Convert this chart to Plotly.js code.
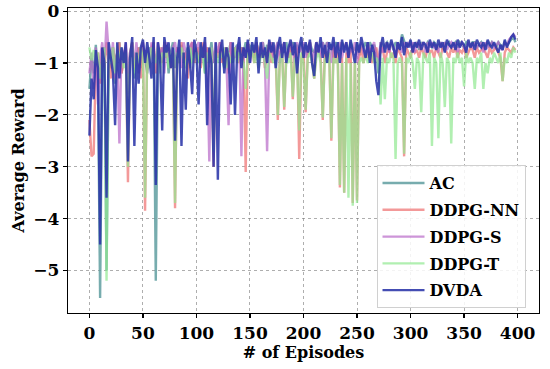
<!DOCTYPE html>
<html>
<head>
<meta charset="utf-8">
<script src="https://cdn.plot.ly/plotly-3.0.1.min.js"></script>
<style>html,body{margin:0;padding:0;background:#fff;}#chart{width:550px;height:369px;}</style>
</head>
<body>
<div id="chart"></div>
<script>
// Episodes sampled every 2 episodes (0..398)
const episodes = Array.from({length: 200}, (_, i) => 2 * i);
const seriesNames = ['AC', 'DDPG-NN', 'DDPG-S', 'DDPG-T', 'DVDA'];
const xTicks = [0, 50, 100, 150, 200, 250, 300, 350, 400];
const yTicks = [0, -1, -2, -3, -4, -5];

const acReward = [
 -1.5,-0.9,-1.2,-0.65,-1.3,-5.53,-1.0,-0.7,-5.0,-0.9,
 -1.1,-0.7,-1.4,-0.8,-0.6,-1.2,-0.9,-0.7,-1.6,-0.8,
 -0.6,-1.3,-0.9,-0.7,-1.1,-0.65,-0.9,-1.2,-0.7,-0.8,
 -0.6,-5.2,-0.8,-1.0,-0.7,-0.9,-0.65,-1.2,-0.8,-0.6,
 -1.1,-0.7,-0.9,-0.65,-1.0,-0.8,-0.7,-1.1,-0.6,-0.9,
 -0.7,-1.0,-0.65,-0.8,-1.2,-0.7,-0.9,-0.6,-1.0,-0.75,
 -0.8,-0.6,-0.9,-1.1,-0.7,-0.8,-0.6,-1.0,-0.75,-0.65,
 -0.9,-0.7,-0.8,-0.6,-1.0,-0.7,-0.65,-0.9,-0.6,-0.8,
 -0.7,-0.6,-0.85,-0.65,-0.9,-0.6,-0.75,-0.8,-0.6,-0.7,
 -0.65,-0.8,-0.6,-0.9,-0.7,-0.6,-0.75,-0.65,-0.8,-0.6,
 -0.7,-0.65,-0.9,-0.6,-0.75,-0.8,-0.6,-0.7,-0.65,-0.6,
 -0.8,-0.6,-0.7,-0.65,-0.9,-0.6,-0.7,-0.75,-0.6,-0.7,
 -0.65,-0.8,-0.6,-0.7,-0.75,-0.6,-0.85,-0.65,-0.7,-0.6,
 -0.75,-0.6,-0.7,-0.65,-0.8,-1.2,-0.6,-0.7,-0.65,-0.6,
 -0.7,-0.6,-0.75,-0.6,-0.65,-0.7,-0.45,-0.6,-0.7,-0.65,
 -0.6,-0.7,-0.65,-0.6,-0.75,-0.6,-0.65,-0.7,-0.6,-0.65,
 -0.7,-0.6,-0.65,-0.7,-0.6,-0.75,-0.6,-0.65,-0.6,-0.7,
 -0.65,-0.6,-0.7,-0.6,-0.65,-0.7,-0.6,-0.65,-0.7,-0.6,
 -0.6,-0.7,-0.65,-0.6,-0.7,-0.65,-0.6,-0.7,-0.6,-0.65,
 -0.7,-0.6,-0.65,-0.7,-0.6,-0.65,-0.6,-0.55,-0.5,-0.6
];

const ddpgNNReward = [
 -2.1,-2.8,-2.75,-1.0,-0.8,-1.4,-0.7,-1.1,-0.6,-0.9,
 -1.3,-0.7,-1.0,-0.8,-0.6,-1.2,-0.9,-0.7,-3.3,-0.8,
 -0.6,-1.1,-0.9,-0.7,-1.3,-0.6,-3.85,-0.8,-1.0,-0.7,
 -0.6,-1.2,-0.8,-0.7,-1.0,-0.6,-0.9,-0.7,-1.1,-0.8,
 -3.8,-0.7,-1.0,-0.6,-0.9,-0.8,-1.3,-0.7,-0.6,-1.0,
 -0.8,-0.7,-1.1,-0.6,-0.9,-0.7,-1.0,-0.8,-3.0,-0.7,
 -0.9,-0.6,-1.0,-0.8,-0.7,-1.2,-0.6,-0.9,-0.7,-0.8,
 -1.0,-0.7,-0.8,-3.1,-0.6,-0.9,-0.7,-1.0,-0.6,-0.8,
 -0.9,-0.7,-1.1,-0.8,-0.6,-1.0,-0.7,-0.9,-2.1,-0.8,
 -0.7,-1.9,-0.8,-0.9,-0.6,-1.7,-0.8,-0.7,-2.85,-0.9,
 -0.7,-1.95,-0.8,-0.6,-1.0,-1.3,-0.8,-0.7,-0.9,-2.1,
 -0.7,-0.9,-0.8,-2.5,-0.7,-1.0,-0.8,-3.4,-0.9,-3.5,
 -0.8,-1.0,-0.7,-3.7,-1.0,-3.65,-0.9,-0.7,-1.0,-0.8,
 -0.9,-0.7,-1.0,-0.8,-0.7,-0.9,-0.8,-0.7,-1.0,-0.8,
 -0.7,-0.9,-0.8,-1.0,-0.7,-0.8,-0.9,-2.8,-0.7,-0.8,
 -0.9,-0.7,-0.8,-0.75,-0.9,-0.7,-0.8,-0.9,-0.7,-0.8,
 -0.75,-0.9,-0.7,-0.8,-0.9,-0.7,-0.75,-0.8,-0.9,-0.7,
 -0.8,-0.7,-0.9,-0.75,-0.8,-0.7,-0.9,-0.8,-0.7,-0.75,
 -0.9,-0.7,-0.8,-0.75,-0.7,-0.8,-0.9,-0.7,-0.8,-0.75,
 -0.7,-0.8,-0.9,-1.35,-0.8,-0.7,-0.75,-0.8,-0.7,-0.75
];

const ddpgSReward = [
 -1.2,-0.8,-1.5,-0.7,-1.8,-0.9,-0.6,-1.1,-0.2,-0.8,
 -1.0,-0.6,-1.3,-0.8,-2.55,-0.7,-0.9,-0.6,-1.2,-0.8,
 -0.7,-1.0,-0.6,-1.2,-0.8,-0.6,-0.9,-0.7,-1.1,-0.6,
 -0.8,-1.0,-0.6,-0.9,-0.7,-1.2,-0.6,-0.8,-1.0,-0.7,
 -0.6,-0.9,-0.7,-1.1,-0.6,-0.8,-1.0,-0.7,-0.6,-0.9,
 -0.7,-0.6,-1.0,-0.8,-0.6,-0.9,-2.9,-0.7,-1.0,-0.6,
 -0.8,-0.6,-0.9,-0.7,-1.0,-2.2,-0.6,-0.8,-0.9,-0.7,
 -0.6,-2.8,-0.7,-0.9,-0.6,-1.0,-0.7,-0.8,-0.6,-0.9,
 -0.7,-0.6,-1.0,-2.7,-0.8,-0.6,-0.9,-0.7,-0.6,-1.0,
 -0.7,-0.6,-0.9,-0.8,-0.6,-0.7,-1.0,-0.6,-0.8,-0.7,
 -0.6,-0.9,-0.7,-0.6,-1.0,-0.8,-0.6,-0.7,-0.9,-0.6,
 -0.8,-0.6,-0.7,-1.0,-0.6,-0.8,-0.7,-0.6,-0.9,-0.7,
 -0.6,-0.9,-0.7,-0.8,-0.6,-1.0,-0.7,-0.6,-0.8,-0.9,
 -0.6,-0.8,-0.7,-0.6,-0.9,-1.0,-0.6,-0.8,-0.7,-0.6,
 -0.8,-0.6,-0.7,-0.9,-0.6,-0.7,-0.8,-0.6,-0.7,-0.6,
 -0.7,-0.6,-0.8,-0.6,-0.7,-0.65,-0.6,-0.8,-0.6,-0.7,
 -0.6,-0.7,-0.65,-0.8,-0.6,-0.7,-0.6,-0.75,-0.65,-0.6,
 -0.7,-0.6,-0.8,-0.65,-0.6,-0.7,-0.75,-0.6,-0.65,-0.7,
 -0.6,-0.7,-0.65,-0.6,-0.8,-0.6,-0.7,-0.65,-0.6,-0.7,
 -0.65,-0.6,-0.7,-0.75,-0.6,-0.65,-0.55,-0.5,-0.45,-0.5
];

const ddpgTReward = [
 -0.7,-0.95,-0.75,-1.0,-0.8,-1.3,-0.9,-0.7,-5.2,-0.8,
 -1.0,-0.7,-1.2,-0.8,-0.9,-0.7,-1.1,-0.8,-3.0,-0.9,
 -0.7,-1.2,-0.8,-1.0,-0.7,-0.9,-3.6,-0.8,-1.1,-0.7,
 -0.9,-1.0,-0.7,-1.2,-0.8,-0.9,-0.7,-1.1,-0.8,-0.9,
 -3.7,-0.8,-1.0,-0.7,-0.9,-1.1,-0.8,-0.7,-1.0,-0.9,
 -0.8,-1.0,-0.7,-0.9,-1.2,-0.8,-1.0,-0.7,-2.7,-0.8,
 -1.0,-0.8,-0.9,-0.7,-1.1,-0.8,-1.0,-0.9,-0.7,-1.0,
 -0.8,-0.9,-1.0,-1.5,-0.8,-0.9,-0.7,-1.0,-0.8,-1.1,
 -0.9,-0.8,-1.0,-1.3,-0.8,-0.9,-1.0,-0.8,-2.0,-0.9,
 -0.8,-1.85,-0.9,-1.0,-0.8,-1.65,-0.9,-1.0,-2.3,-0.8,
 -1.0,-1.9,-0.9,-0.8,-1.0,-1.3,-0.9,-0.8,-1.0,-2.05,
 -0.9,-1.0,-0.8,-2.45,-0.9,-1.0,-0.9,-3.35,-1.0,-3.5,
 -0.9,-3.6,-1.0,-3.75,-0.9,-3.7,-1.0,-0.9,-1.0,-0.8,
 -1.0,-0.9,-0.8,-1.0,-0.9,-1.0,-1.8,-0.9,-1.7,-0.9,
 -1.0,-0.8,-0.9,-2.85,-1.0,-0.9,-1.0,-2.75,-0.9,-1.0,
 -0.8,-1.0,-1.5,-0.9,-1.0,-1.95,-0.8,-0.9,-1.0,-0.8,
 -2.6,-0.9,-1.0,-2.45,-0.8,-1.0,-1.85,-0.9,-1.0,-2.55,
 -0.9,-1.0,-0.8,-1.0,-0.9,-1.45,-0.8,-1.0,-0.9,-1.0,
 -1.5,-0.9,-1.0,-0.8,-1.5,-1.0,-1.2,-0.9,-1.0,-0.8,
 -0.9,-1.0,-0.8,-1.35,-0.9,-1.0,-0.8,-0.9,-0.7,-0.8
];

const dvdaReward = [
 -2.4,-1.3,-1.7,-0.75,-1.1,-4.5,-0.7,-1.0,-3.6,-0.6,
 -0.9,-1.2,-2.2,-0.6,-1.3,-0.7,-1.0,-0.6,-2.9,-0.9,
 -0.5,-2.6,-0.8,-1.4,-0.7,-0.55,-1.0,-0.6,-0.9,-1.3,
 -0.5,-3.35,-0.6,-0.9,-2.3,-0.5,-0.8,-0.6,-1.1,-0.7,
 -2.5,-0.9,-0.55,-2.6,-0.8,-1.9,-0.6,-1.0,-1.6,-0.55,
 -0.8,-1.8,-0.6,-0.9,-0.5,-2.2,-0.7,-1.0,-3.0,-0.6,
 -3.25,-0.8,-0.55,-1.2,-0.7,-0.9,-1.8,-0.6,-2.0,-0.8,
 -0.5,-1.1,-0.7,-0.9,-0.55,-1.0,-0.6,-0.8,-0.5,-1.2,
 -0.6,-0.9,-0.7,-1.0,-0.55,-0.8,-0.6,-1.1,-0.7,-0.5,
 -0.9,-0.6,-1.0,-0.7,-0.55,-0.85,-0.6,-1.2,-0.7,-0.5,
 -0.9,-0.6,-0.8,-0.55,-1.0,-1.25,-0.6,-0.8,-0.5,-0.9,
 -0.65,-1.0,-0.6,-0.75,-0.5,-0.9,-0.6,-1.0,-0.55,-0.8,
 -0.6,-0.9,-0.55,-0.75,-1.0,-0.6,-0.8,-0.5,-0.7,-0.9,
 -0.6,-1.0,-0.65,-0.8,-1.35,-1.62,-0.7,-0.5,-0.8,-0.6,
 -0.75,-0.55,-0.7,-0.9,-0.6,-0.75,-0.5,-0.85,-0.6,-0.7,
 -0.55,-0.8,-0.6,-0.7,-0.55,-0.75,-0.6,-0.65,-0.8,-0.55,
 -0.7,-0.6,-0.75,-0.55,-0.7,-0.6,-0.8,-0.55,-0.65,-0.7,
 -0.6,-0.75,-0.55,-0.7,-0.6,-0.65,-0.8,-0.55,-0.7,-0.6,
 -0.75,-0.55,-0.65,-0.7,-0.6,-0.75,-0.55,-0.65,-0.7,-0.6,
 -0.7,-0.8,-0.65,-0.75,-0.55,-0.7,-0.6,-0.5,-0.45,-0.55
];

const seriesValues = [acReward, ddpgNNReward, ddpgSReward, ddpgTReward, dvdaReward];
const seriesColors = ['#5f9ea0', '#f08080', '#b868c8', '#90e890', '#2a34a8'];
const seriesOpacity = [0.85, 0.8, 0.7, 0.7, 0.88];

const FONT = 'DejaVu Serif, Liberation Serif, serif';

const traces = seriesNames.map((name, k) => ({
  type: 'scatter',
  mode: 'lines',
  name: name,
  x: episodes,
  y: seriesValues[k],
  opacity: seriesOpacity[k],
  line: {color: seriesColors[k], width: 2.4},
  legendgroup: name
}));

const axisCommon = {
  showgrid: true,
  gridcolor: 'rgba(120,120,120,0.6)',
  griddash: 'dot',
  gridwidth: 1,
  zeroline: false,
  showline: true,
  linecolor: '#000',
  linewidth: 1.3,
  mirror: true,
  ticks: 'outside',
  ticklen: 4,
  tickwidth: 1.2,
  tickcolor: '#000',
  tickfont: {family: FONT, size: 17, color: '#000', weight: 'bold'}
};

const layout = {
  width: 550,
  height: 369,
  margin: {l: 68, r: 11, t: 8, b: 56},
  paper_bgcolor: '#fff',
  plot_bgcolor: '#fff',
  showlegend: true,
  xaxis: Object.assign({}, axisCommon, {
    range: [-20, 420],
    tickvals: xTicks,
    ticktext: xTicks.map(String),
    title: {text: '# of Episodes', font: {family: FONT, size: 16, color: '#000', weight: 'bold'}, standoff: 4}
  }),
  yaxis: Object.assign({}, axisCommon, {
    range: [-5.82, 0.06],
    tickvals: yTicks,
    title: {text: 'Average Reward', font: {family: FONT, size: 16, color: '#000', weight: 'bold'}, standoff: 4}
  }),
  legend: {
    x: 0.655, y: 0.485, xanchor: 'left', yanchor: 'top',
    bgcolor: 'rgba(255,255,255,0.85)',
    bordercolor: '#d0d0d0',
    borderwidth: 1,
    tracegroupgap: 3,
    itemwidth: 42,
    font: {family: FONT, size: 16, color: '#000', weight: 'bold'}
  }
};

Plotly.newPlot('chart', traces, layout, {staticPlot: true, displayModeBar: false});
</script>
</body>
</html>
